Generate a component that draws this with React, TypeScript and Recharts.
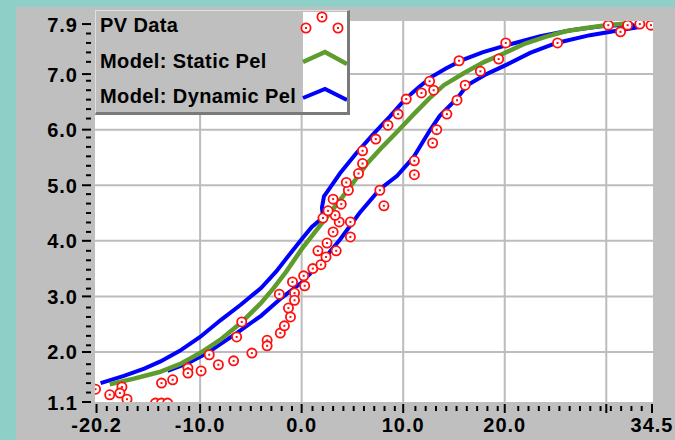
import {
  ComposedChart,
  Line,
  Scatter,
  XAxis,
  YAxis,
  CartesianGrid,
  ReferenceLine,
  Legend,
} from 'recharts';

// Model: Static Pel (green)
const staticPelX = [-18.9, -16.5, -14, -12, -10, -8, -6, -4, -2.8, -1.5, 0, 1.5, 3, 4.7, 6.5, 8, 9.5, 11, 12.5, 14, 16, 18, 20, 22, 24, 26, 28, 30, 32];
const staticPelY = [1.42, 1.52, 1.64, 1.78, 1.98, 2.22, 2.52, 2.88, 3.14, 3.45, 3.85, 4.2, 4.55, 4.95, 5.4, 5.7, 5.98, 6.27, 6.55, 6.8, 7.02, 7.22, 7.38, 7.55, 7.67, 7.77, 7.83, 7.88, 7.91];

// Model: Dynamic Pel (blue) - one loop, rising branch then falling branch
const dynamicPelX = [
  -19.8, -17.5, -15.5, -13.9, -12, -10, -8, -6, -4, -2.5, -1, 0, 1, 2.1, 2.0, 2.2, 2.7, 3.8, 5.4, 7.1, 8.7, 10.2, 11.5, 12.8, 14.2, 15.8, 17.8, 20.2, 23.5, 26.5, 29.5, 32.5,
  33, 31.3, 28.4, 25.1, 22.5, 20.2, 18.2, 16.3, 15.3, 13.6, 12.6, 11, 9.4, 7.7, 5.7, 3.8, 2.1, 0, -2, -4, -6.4, -9.3, -11.2, -13.2,
];
const dynamicPelY = [
  1.44, 1.57, 1.7, 1.83, 2.02, 2.27, 2.57, 2.85, 3.15, 3.45, 3.8, 4.03, 4.25, 4.42, 4.6, 4.8, 4.93, 5.22, 5.58, 5.93, 6.24, 6.55, 6.76, 6.95, 7.1, 7.25, 7.39, 7.52, 7.68, 7.79, 7.86, 7.89,
  7.84, 7.79, 7.7, 7.56, 7.38, 7.17, 7.0, 6.8, 6.56, 6.25, 5.98, 5.5, 5.17, 4.93, 4.5, 4.03, 3.65, 3.25, 2.97, 2.65, 2.34, 1.98, 1.8, 1.66,
];

// PV Data (red circles)
const pvX = [
  -20.3, -18.9, -17.7, -17.9, -17.2, -14.4, -13.8, -13.2, -13.8, -12.7, -11.2, -11.2, -9.9, -9.1, -8.2, -6.7, -5.9, -6.4, -4.9, -3.4,
  -3.4, -2.1, -1.7, -1.3, -1.1, -0.9, -0.7, -0.7, -2.2, 0.3, 0.2, 1.1, 1.9, 1.6, 2.4, 2.5, 3.4, 3.1, 4.8, 2.1,
  3.7, 4.8, 3.3, 2.6, 3.9, 3.1, 4.6, 4.4, 5.6, 6.0, 6.0, 7.3, 8.5, 9.5, 10.3, 8.1, 7.7, 11.1, 11.1, 12.9,
  13.3, 14.3, 15.3, 11.8, 13.0, 12.6, 16.1, 17.6, 15.5, 19.4, 20.1, 25.2, 31.4, 30.2, 32.1, 33.3, 34.4,
];
const pvY = [
  1.33, 1.23, 1.37, 1.26, 1.15, 1.08, 1.08, 1.08, 1.44, 1.5, 1.71, 1.62, 1.66, 1.95, 1.77, 1.84, 2.54, 2.27, 1.98, 2.21,
  2.11, 2.34, 2.47, 2.79, 2.63, 3.26, 3.06, 2.93, 3.04, 3.19, 3.37, 3.5, 3.57, 3.82, 3.71, 3.96, 3.82, 4.16, 4.07, 4.41,
  4.34, 4.34, 4.46, 4.54, 4.66, 4.75, 4.91, 5.05, 5.21, 5.39, 5.62, 5.83, 6.08, 6.28, 6.55, 4.63, 4.91, 5.19, 5.44, 5.76,
  6.0, 6.28, 6.53, 6.66, 6.71, 6.87, 6.8, 7.05, 7.24, 7.27, 7.56, 7.56, 7.76, 7.88, 7.88, 7.9, 7.88,
];

// axes
const xLabelTicks = [-20.2, -10, 0, 10, 20, 34.5];
const xLabelText = ['-20.2', '-10.0', '0.0', '10.0', '20.0', '34.5'];
const xMajorTicks = [-20.2, -10, 0, 10, 20, 30, 34.5];
const xGridLines = [-10, 0, 10, 20, 30];
const yLabelTicks = [1.1, 2, 3, 4, 5, 6, 7, 7.9];
const yLabelText = ['1.1', '2.0', '3.0', '4.0', '5.0', '6.0', '7.0', '7.9'];
const yGridLines = [2, 3, 4, 5, 6, 7];

const xMinor = Array.from({ length: 55 }, (_, k) => +(-20.2 + (k * 54.7) / 54).toFixed(3)).filter((v) =>
  xMajorTicks.every((m) => Math.abs(m - v) > 0.4),
);
const yMinor = Array.from({ length: 41 }, (_, k) => +(1.1 + k * 0.17).toFixed(3)).filter((v) =>
  yLabelTicks.every((m) => Math.abs(m - v) > 0.06),
);
const xTicks = [...xMajorTicks, ...xMinor].sort((a, b) => a - b);
const yTicks = [...yLabelTicks, ...yMinor].sort((a, b) => a - b);

const staticData = staticPelX.map((x, i) => ({ x, y: staticPelY[i] }));
const dynamicData = dynamicPelX.map((x, i) => ({ x, y: dynamicPelY[i] }));
const pvData = pvX.map((x, i) => ({ x, y: pvY[i] }));

const TEAL = '#8ecfc8';
const PANEL = '#bfbfbf';
const BLUE = '#0000ff';
const GREEN = '#5f9c2e';
const RED = '#ff1010';
const FONT = '"Liberation Sans", Arial, sans-serif';

const XTick = (props: any) => {
  const { x, y, payload } = props;
  const v = payload.value;
  const major = xMajorTicks.includes(v);
  const idx = xLabelTicks.indexOf(v);
  return (
    <g>
      <line x1={x} x2={x} y1={y + (major ? 2 : 4)} y2={y + (major ? 11 : 9)} stroke="#000" strokeWidth={2} />
      {idx >= 0 && (
        <text x={x} y={y + 30} textAnchor="middle" fontFamily={FONT} fontWeight={700} fontSize={20} letterSpacing={1} fill="#000">
          {xLabelText[idx]}
        </text>
      )}
    </g>
  );
};

const YTick = (props: any) => {
  const { x, y, payload } = props;
  const v = payload.value;
  const idx = yLabelTicks.indexOf(v);
  const major = idx >= 0;
  return (
    <g>
      <line x1={x - (major ? 13 : 9)} x2={x - 4} y1={y} y2={y} stroke="#000" strokeWidth={2} />
      {major && (
        <text x={x - 17} y={y + 7.5} textAnchor="end" fontFamily={FONT} fontWeight={700} fontSize={20} letterSpacing={1} fill="#000">
          {yLabelText[idx]}
        </text>
      )}
    </g>
  );
};

const PvDot = (props: any) => {
  const { cx, cy } = props;
  return (
    <g>
      <circle cx={cx} cy={cy} r={4.6} fill="#fff" stroke={RED} strokeWidth={1.8} />
      <rect x={cx - 1} y={cy - 1} width={2} height={2} fill={RED} />
    </g>
  );
};

const LegendBox = () => (
  <div
    style={{
      width: 255,
      height: 105,
      background: PANEL,
      boxSizing: 'border-box',
      borderRight: '3px solid #7a7a7a',
      borderBottom: '3px solid #7a7a7a',
      borderTop: '1px solid #e0e0e0',
      borderLeft: '1px solid #e0e0e0',
    }}
  >
    <svg width={251} height={101} style={{ display: 'block' }}>
      <rect x={207} y={1} width={44} height={100} fill="#fff" />
      <g fontFamily={FONT} fontWeight={700} fontSize={20} letterSpacing={0.4} fill="#000">
        <text x={4} y={21}>PV Data</text>
        <text x={4} y={57}>Model: Static Pel</text>
        <text x={4} y={92}>Model: Dynamic Pel</text>
      </g>
      <PvDot cx={226} cy={6} />
      <PvDot cx={210} cy={17} />
      <PvDot cx={242} cy={17} />
      <polyline points="207,51 229,41 251,53" fill="none" stroke={GREEN} strokeWidth={4.5} />
      <polyline points="207,87 229,78 251,89" fill="none" stroke={BLUE} strokeWidth={4} />
    </svg>
  </div>
);

export default function App() {
  return (
    <div style={{ position: 'absolute', left: 0, top: 0, width: 675, height: 440, background: TEAL, overflow: 'hidden' }}>
      <div style={{ position: 'absolute', left: 16, top: 7, width: 659, height: 433, background: PANEL }} />
      <div style={{ position: 'absolute', left: 0, top: 0 }}>
        <ComposedChart width={675} height={440} margin={{ top: 21, right: 22, bottom: 0, left: 0 }}>
          <CartesianGrid fill="#ffffff" horizontal={false} vertical={false} stroke="none" />
          {xGridLines.map((v) => (
            <ReferenceLine key={'gx' + v} x={v} stroke="#bcbcbc" strokeWidth={2} />
          ))}
          {yGridLines.map((v) => (
            <ReferenceLine key={'gy' + v} y={v} stroke="#bcbcbc" strokeWidth={2} />
          ))}
          <XAxis
            type="number"
            dataKey="x"
            domain={[-20.35, 34.6]}
            allowDataOverflow
            ticks={xTicks}
            interval={0}
            tick={<XTick />}
            tickLine={false}
            axisLine={false}
            tickSize={0}
            tickMargin={0}
            height={38}
          />
          <YAxis
            type="number"
            dataKey="y"
            domain={[1.1, 7.955]}
            allowDataOverflow
            ticks={yTicks}
            interval={0}
            tick={<YTick />}
            tickLine={false}
            axisLine={false}
            tickSize={0}
            tickMargin={0}
            width={95}
          />
          <Line
            data={dynamicData}
            dataKey="y"
            type="linear"
            stroke={BLUE}
            strokeWidth={4}
            dot={false}
            isAnimationActive={false}
          />
          <Line
            data={staticData}
            dataKey="y"
            type="linear"
            stroke={GREEN}
            strokeWidth={4.5}
            dot={false}
            isAnimationActive={false}
          />
          <Scatter data={pvData} dataKey="y" shape={<PvDot />} isAnimationActive={false} />
          <Legend
            content={<LegendBox />}
            layout="horizontal"
            verticalAlign="middle"
            align="center"
            wrapperStyle={{ left: 95, top: 10, width: 255, height: 105 }}
          />
        </ComposedChart>
      </div>
    </div>
  );
}
